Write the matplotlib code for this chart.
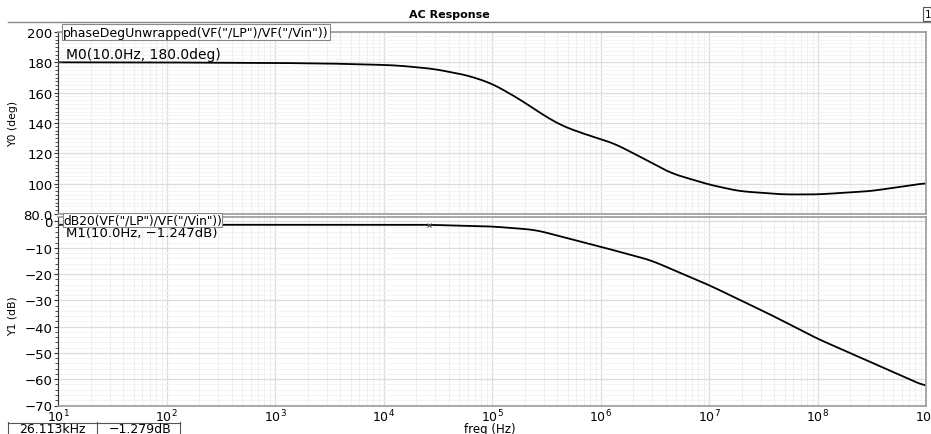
import numpy as np
import matplotlib
matplotlib.use("Agg")
import matplotlib.pyplot as plt
from matplotlib.ticker import LogLocator, MultipleLocator, NullFormatter, FixedLocator

# ---- data ----
phase_logf = [1.0, 2.0, 3.0, 3.5, 4.0, 4.15, 4.46, 4.775, 5.0, 5.24, 5.49, 5.65, 5.87,
              6.12, 6.34, 6.65, 7.0, 7.275, 7.68, 8.0, 8.49, 9.0]
phase_deg = [180.0, 179.9, 179.6, 179.2, 178.3, 177.8, 175.7, 171.4, 166.0, 156.3, 144.5,
             138.0, 132.3, 126.7, 118.7, 106.9, 99.4, 95.1, 92.9, 92.9, 95.1, 100.4]

mag_logf = [1.0, 2.0, 3.0, 4.0, 4.15, 4.42, 5.0, 5.4, 6.0, 6.46, 7.0, 7.58, 8.0, 8.53, 9.0]
mag_db = [-1.247, -1.247, -1.25, -1.26, -1.27, -1.279, -1.9, -3.2, -9.6, -14.7, -24.2,
          -35.7, -44.6, -54.2, -62.8]

x_ticks = [1e1, 1e2, 1e3, 1e4, 1e5, 1e6, 1e7, 1e8, 1e9]
x_ticklabels = [r"$10^{1}$", r"$10^{2}$", r"$10^{3}$", r"$10^{4}$", r"$10^{5}$",
                r"$10^{6}$", r"$10^{7}$", r"$10^{8}$", r"$10^{9}$"]
top_yticks = [80, 100, 120, 140, 160, 180, 200]
top_yticklabels = ["80.0", "100", "120", "140", "160", "180", "200"]
bot_yticks = [0, -10, -20, -30, -40, -50, -60, -70]
bot_yticklabels = ["0", "\u221210", "\u221220", "\u221230", "\u221240", "\u221250",
                   "\u221260", "\u221270"]

title = "AC Response"
top_trace = 'phaseDegUnwrapped(VF("/LP")/VF("/Vin"))'
bot_trace = 'dB20(VF("/LP")/VF("/Vin"))'
m0_label = "M0(10.0Hz, 180.0deg)"
m1_label = "M1(10.0Hz, \u22121.247dB)"
cursor_f = 26.113e3
cursor_db = -1.279
status = ["26.113kHz", "\u22121.279dB"]

plt.rcParams['font.family'] = ['DejaVu Sans']
plt.rcParams['mathtext.fontset'] = 'dejavusans'

W, H = 931, 435
fig = plt.figure(figsize=(W / 100, H / 100), dpi=100)
fig.patch.set_facecolor("white")

def fx(px):
    return px / W
def fy(py):
    return 1 - py / H

L, R = 58, 926
ax1 = fig.add_axes([fx(L), fy(215), fx(R - L), fy(33) - fy(215)])
ax2 = fig.add_axes([fx(L), fy(406.5), fx(R - L), fy(218) - fy(406.5)])

# smooth curves in log-frequency
lf1 = np.linspace(1, 9, 600)
ph = np.interp(lf1, phase_logf, phase_deg)
mg = np.interp(lf1, mag_logf, mag_db)
k = np.ones(15) / 15
ph_s = np.convolve(np.pad(ph, 7, mode='edge'), k, mode='valid')
mg_s = np.convolve(np.pad(mg, 7, mode='edge'), k, mode='valid')

ax1.plot(10 ** lf1, ph_s, color="black", lw=1.3)
ax2.plot(10 ** lf1, mg_s, color="black", lw=1.3)
ax2.plot([cursor_f], [cursor_db], marker="x", color="#555555", ms=3, mew=0.8)

for ax in (ax1, ax2):
    ax.set_xscale("log")
    ax.set_xlim(1e1, 1e9)
    ax.xaxis.set_major_locator(FixedLocator(x_ticks))
    ax.xaxis.set_minor_locator(LogLocator(base=10, subs=np.arange(2, 10), numticks=20))
    ax.xaxis.set_minor_formatter(NullFormatter())
    ax.grid(which="major", color="#dcdcdc", lw=0.9)
    ax.grid(which="minor", color="#efefef", lw=0.7)
    ax.set_axisbelow(True)
    for s in ("top", "right", "bottom"):
        ax.spines[s].set_color("#9a9a9a")
        ax.spines[s].set_linewidth(1.2)
    ax.spines["left"].set_color("#333333")
    ax.tick_params(axis="y", which="both", direction="out", labelsize=9.5, color="#333333",
                   length=3, pad=1)
    ax.tick_params(axis="y", which="minor", length=2)
    ax.tick_params(axis="x", which="both", length=0)

ax1.set_ylim(80, 200)
ax1.yaxis.set_major_locator(FixedLocator(top_yticks))
ax1.yaxis.set_minor_locator(MultipleLocator(2.5))
ax1.set_yticklabels(top_yticklabels)
ax1.set_xticklabels([])
ax1.grid(which="minor", axis="y", color="#f2f2f2", lw=0.6)

ax2.set_ylim(-70, 1.7)
ax2.yaxis.set_major_locator(FixedLocator(bot_yticks))
ax2.yaxis.set_minor_locator(MultipleLocator(2))
ax2.set_yticklabels(bot_yticklabels)
ax2.set_xticklabels(x_ticklabels)
ax2.tick_params(axis="x", labelsize=9, pad=1.5)
ax2.grid(which="minor", axis="y", color="#f2f2f2", lw=0.6)

ax1.set_ylabel("Y0 (deg)", fontsize=7.8)
ax2.set_ylabel("Y1 (dB)", fontsize=7.8)
ax1.yaxis.set_label_coords(fx(18 - L) / fx(R - L), 0.5)
ax2.yaxis.set_label_coords(fx(18 - L) / fx(R - L), 0.48)
fig.text(fx(490), fy(430), "freq (Hz)", fontsize=8.5, ha="center", va="center")

# trace tabs
fig.text(fx(63), fy(33), top_trace, fontsize=9, va="center", ha="left",
         bbox=dict(boxstyle="square,pad=0.12", fc="white", ec="#888888", lw=0.8))
fig.text(fx(63), fy(221), bot_trace, fontsize=8.8, va="center", ha="left",
         bbox=dict(boxstyle="square,pad=0.03", fc="white", ec="#888888", lw=0.8))

# markers
ax1.annotate(m0_label, xy=(1e1, 180), xytext=(fx(66), fy(55)), textcoords="figure fraction",
             fontsize=10, ha="left", va="center",
             arrowprops=dict(arrowstyle="-", color="#666666", lw=0.6, shrinkA=0, shrinkB=0))
ax2.annotate(m1_label, xy=(1e1, -1.247), xytext=(fx(66), fy(233.5)), textcoords="figure fraction",
             fontsize=9.5, ha="left", va="center",
             arrowprops=dict(arrowstyle="-", color="#666666", lw=0.6, shrinkA=0, shrinkB=0))

# title and header line
fig.text(fx(449), fy(15), title, ha="center", va="center", fontsize=8, fontweight="bold")
fig.add_artist(plt.Line2D([fx(8), 1.0], [fy(23), fy(23)], color="#888888", lw=1.0))
fig.text(fx(928), fy(15), "1", ha="center", va="center", fontsize=7.5,
         bbox=dict(boxstyle="square,pad=0.15", fc="white", ec="#555555", lw=0.8))

# status boxes
fig.text(fx(52), fy(430), status[0], ha="center", va="center", fontsize=9)
fig.text(fx(140), fy(430), status[1], ha="center", va="center", fontsize=9)
for x0 in (8, 97, 180):
    fig.add_artist(plt.Line2D([fx(x0), fx(x0)], [fy(423), fy(435)], color="#555555", lw=0.8))
fig.add_artist(plt.Line2D([fx(8), fx(180)], [fy(423.5), fy(423.5)], color="#555555", lw=0.8))

fig.savefig("out.png", dpi=100, facecolor="white")
